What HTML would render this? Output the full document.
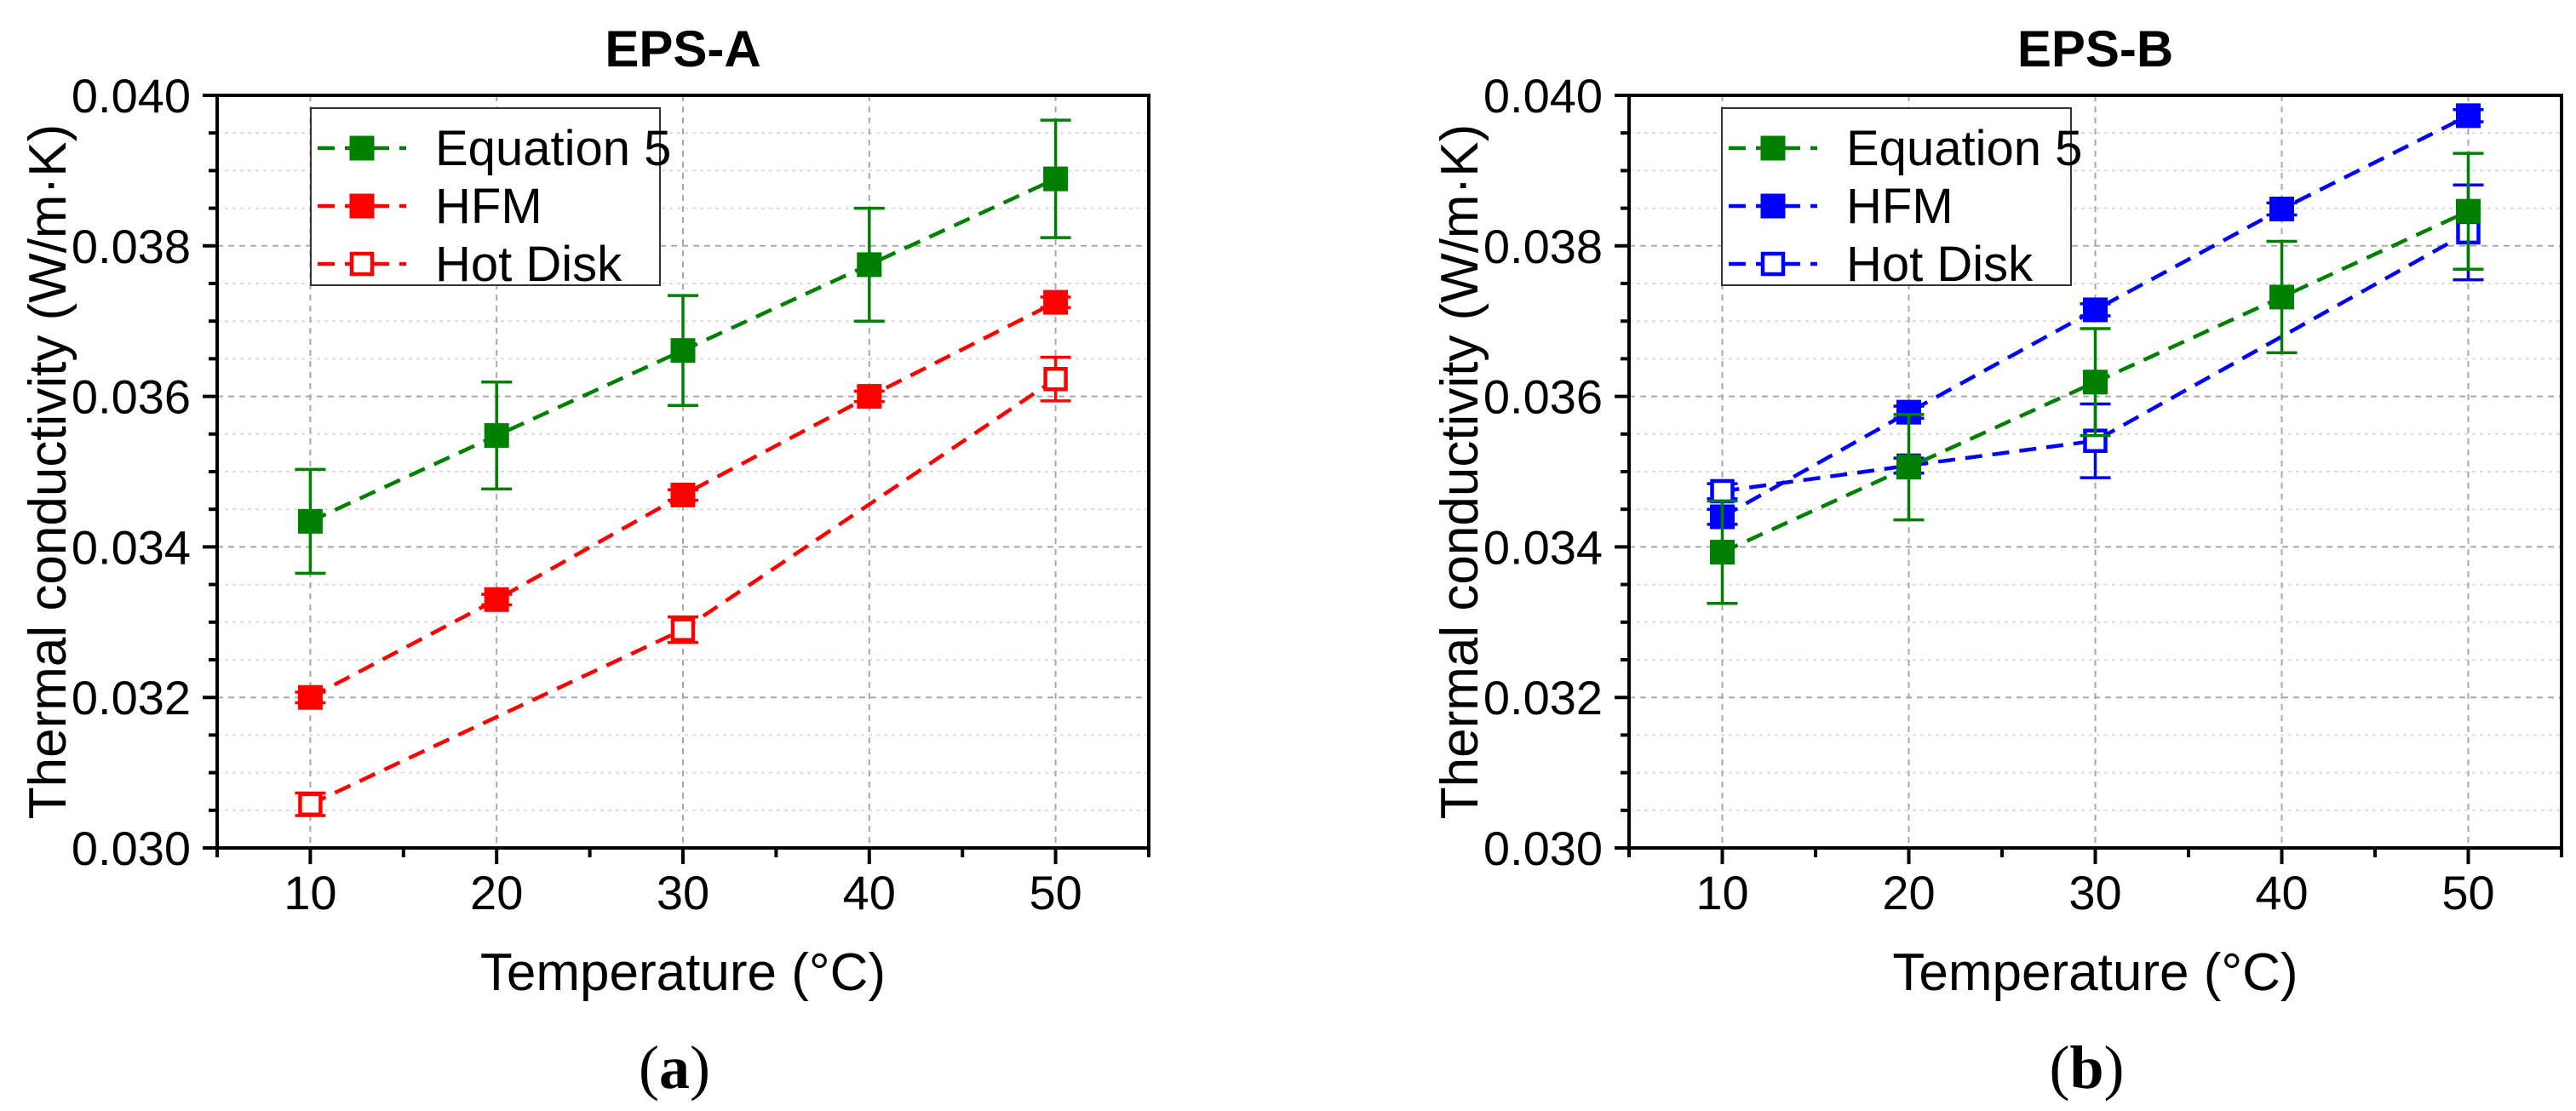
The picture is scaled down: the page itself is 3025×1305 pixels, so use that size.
<!DOCTYPE html>
<html><head><meta charset="utf-8">
<style>
html,body{margin:0;padding:0;background:#fff;}
svg{display:block;font-family:"Liberation Sans",Arial,sans-serif;}
</style></head>
<body>
<svg id="fig" width="3025" height="1305" viewBox="0 0 3025 1305" xmlns="http://www.w3.org/2000/svg"></svg>
<script>
// ---- data ----
const temps = [10, 20, 30, 40, 50];
const xTicks = [10, 20, 30, 40, 50];
const yTicks = [0.030, 0.032, 0.034, 0.036, 0.038, 0.040];
const yTickLabels = ["0.030", "0.032", "0.034", "0.036", "0.038", "0.040"];

const aEqVals = [0.03434, 0.03548, 0.03661, 0.03775, 0.03889];
const aEqErr = [0.00069, 0.00071, 0.00073, 0.00075, 0.00078];
const aHfmVals = [0.03200, 0.03330, 0.03469, 0.03600, 0.03725];
const aHfmErr = [0.00007, 0.00007, 0.00007, 0.00007, 0.00007];
const aHdTemps = [10, 30, 50];
const aHdVals = [0.03058, 0.03290, 0.03623];
const aHdErr = [0.00015, 0.00017, 0.00029];

const bEqVals = [0.03393, 0.03506, 0.03619, 0.03732, 0.03846];
const bEqErr = [0.00068, 0.00070, 0.00071, 0.00074, 0.00077];
const bHfmVals = [0.03440, 0.03579, 0.03715, 0.03849, 0.03973];
const bHfmErr = [0.00010, 0.00008, 0.00008, 0.00008, 0.00008];
const bHdTemps = [10, 20, 30, 50];
const bHdVals = [0.03474, 0.03508, 0.03541, 0.03818];
const bHdErr = [0.00010, 0.00010, 0.00049, 0.00063];

const NS = "http://www.w3.org/2000/svg";
const svg = document.getElementById("fig");
function mk(tag, attrs, parent) {
  const e = document.createElementNS(NS, tag);
  for (const k in attrs) e.setAttribute(k, attrs[k]);
  (parent || svg).appendChild(e);
  return e;
}

const Y0 = 112, Y1 = 996;
function panel(px0, px1, title, sub, series, legendX) {
  const g = mk("g", {});
  
  
  const xs = v => px0 + (v - 5) / 50 * (px1 - px0);
  const ys = v => Y1 - (v - 0.030) / 0.010 * (Y1 - Y0);
  for (let i = 0; i <= 20; i++) {
    const v = 0.030 + i * 0.0005;
    if (i % 4 === 0) continue;
    const l = mk("line", {x1: px0, x2: px1, y1: ys(v), y2: ys(v), stroke: "#dcdcdc", "stroke-width": 2, "stroke-dasharray": "4 5"}, g);
    
    
  }
  yTicks.forEach((v, i) => {
    if (i === 0 || i === yTicks.length - 1) return;
    const l = mk("line", {x1: px0, x2: px1, y1: ys(v), y2: ys(v), stroke: "#a8a8a8", "stroke-width": 2, "stroke-dasharray": "7 6"}, g);
    
    
  });
  xTicks.forEach(v => {
    const l = mk("line", {x1: xs(v), x2: xs(v), y1: Y0, y2: Y1, stroke: "#a8a8a8", "stroke-width": 2, "stroke-dasharray": "7 6"}, g);
    
    
  });
  series.forEach(s => {
    const sg = mk("g", {}, g);
    
    
    const pts = s.t.map((t, i) => xs(t) + "," + ys(s.v[i])).join(" ");
    const pl = mk("polyline", {points: pts, fill: "none", stroke: s.color, "stroke-width": 4.5, "stroke-dasharray": "20 12"}, sg);
    
    
    s.t.forEach((t, i) => {
      const x = xs(t), y = ys(s.v[i]), yt = ys(s.v[i] + s.e[i]), yb = ys(s.v[i] - s.e[i]);
      const eb = mk("path", {d: `M${x},${yt}V${yb}M${x-18},${yt}H${x+18}M${x-18},${yb}H${x+18}`, stroke: s.color, "stroke-width": 3.5, fill: "none"}, sg);
      
      
      const r = s.open
        ? mk("rect", {x: x - 12, y: y - 12, width: 24, height: 24, fill: "#fff", stroke: s.color, "stroke-width": 4.5}, sg)
        : mk("rect", {x: x - 14.5, y: y - 14.5, width: 29, height: 29, fill: s.color}, sg);
      
      
    });
  });
  const fr = mk("rect", {x: px0, y: Y0, width: px1 - px0, height: Y1 - Y0, fill: "none", stroke: "#000", "stroke-width": 4}, g);
  
  
  for (let i = 0; i <= 20; i++) {
    const v = 0.030 + i * 0.0005;
    const major = i % 4 === 0;
    const t = mk("line", {x1: px0 - (major ? 17 : 10), x2: px0, y1: ys(v), y2: ys(v), stroke: "#000", "stroke-width": 4}, g);
    
    
  }
  yTicks.forEach((v, i) => {
    const tx = mk("text", {x: px0 - 31, y: ys(v) + 20, "text-anchor": "end", "font-size": 56, fill: "#000"}, g);
    tx.textContent = yTickLabels[i];
    
    
  });
  for (let v = 5; v <= 55; v += 5) {
    const major = v % 10 === 0;
    const t = mk("line", {x1: xs(v), x2: xs(v), y1: Y1, y2: Y1 + (major ? 19 : 11), stroke: "#000", "stroke-width": 4}, g);
    
    
  }
  xTicks.forEach(v => {
    const tx = mk("text", {x: xs(v), y: 1068, "text-anchor": "middle", "font-size": 56, fill: "#000"}, g);
    tx.textContent = String(v);
    
    
  });
  const cx = (px0 + px1) / 2;
  const tt = mk("text", {x: cx, y: 78, "text-anchor": "middle", "font-size": 60, "font-weight": "bold"}, g);
  tt.textContent = title;
  
  
  const xt = mk("text", {x: cx, y: 1163, "text-anchor": "middle", "font-size": 62}, g);
  xt.textContent = "Temperature (°C)";
  
  
  const yt = mk("text", {x: 0, y: 0, "text-anchor": "middle", "font-size": 62, transform: `translate(${px0 - 178},${(Y0 + Y1) / 2}) rotate(-90)`}, g);
  yt.textContent = "Thermal conductivity (W/m·K)";
  
  
  const st = mk("text", {x: cx - 10, y: 1278, "text-anchor": "middle", "font-size": 72, "font-family": "Liberation Serif, serif"}, g);
  st.innerHTML = '(<tspan font-weight="bold">' + sub + '</tspan>)';
  
  
  const lg = mk("g", {}, g);
  
  
  mk("rect", {x: legendX, y: 127, width: 410, height: 208, fill: "#fff", stroke: "#333", "stroke-width": 2}, lg);
  series.slice().sort((a, b) => a.li - b.li).forEach((s, k) => {
    const y = 174 + k * 68;
    const e = mk("g", {}, lg);
    
    
    mk("line", {x1: legendX + 8, x2: legendX + 112, y1: y, y2: y, stroke: s.color, "stroke-width": 4.5, "stroke-dasharray": "20 12"}, e);
    if (s.open) mk("rect", {x: legendX + 48, y: y - 12, width: 24, height: 24, fill: "#fff", stroke: s.color, "stroke-width": 4.5}, e);
    else mk("rect", {x: legendX + 45.5, y: y - 14.5, width: 29, height: 29, fill: s.color}, e);
    const tx = mk("text", {x: legendX + 146, y: y + 20, "font-size": 58}, e);
    tx.textContent = s.label;
  });
}

panel(255, 1349, "EPS-A", "a", [
  {name: "hot-disk", label: "Hot Disk", color: "#ff0000", t: aHdTemps, v: aHdVals, e: aHdErr, open: true, li: 2},
  {name: "hfm", label: "HFM", color: "#ff0000", t: temps, v: aHfmVals, e: aHfmErr, open: false, li: 1},
  {name: "equation-5", label: "Equation 5", color: "#008000", t: temps, v: aEqVals, e: aEqErr, open: false, li: 0}
], 365);

panel(1913, 3008, "EPS-B", "b", [
  {name: "hot-disk", label: "Hot Disk", color: "#0000ff", t: bHdTemps, v: bHdVals, e: bHdErr, open: true, li: 2},
  {name: "hfm", label: "HFM", color: "#0000ff", t: temps, v: bHfmVals, e: bHfmErr, open: false, li: 1},
  {name: "equation-5", label: "Equation 5", color: "#008000", t: temps, v: bEqVals, e: bEqErr, open: false, li: 0}
], 2022);
</script>
</body></html>
